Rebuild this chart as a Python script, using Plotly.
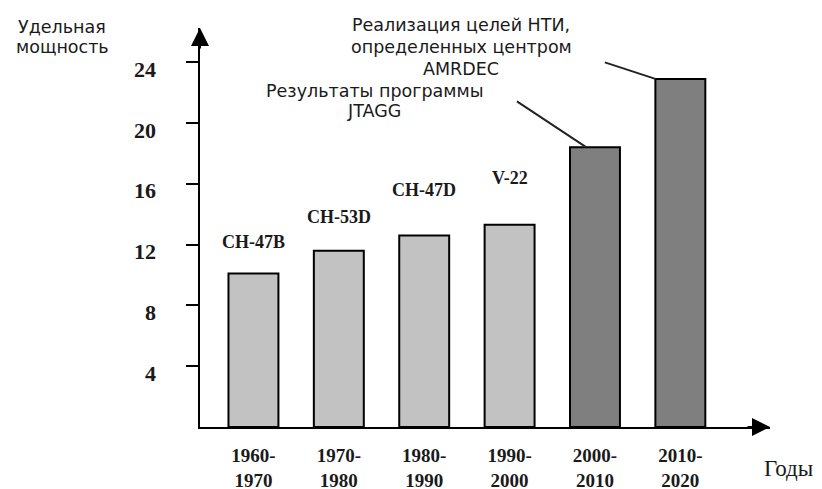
import plotly.graph_objects as go

# ---------------- data ----------------
periods = ["1960-<br>1970", "1970-<br>1980", "1980-<br>1990",
           "1990-<br>2000", "2000-<br>2010", "2010-<br>2020"]
power = [10.1, 11.6, 12.6, 13.3, 18.4, 22.9]
aircraft = ["CH-47B", "CH-53D", "CH-47D", "V-22"]
y_ticks = [4, 8, 12, 16, 20, 24]
y_ticktext = ["4", "8", "12", "16", "20", "24"]
y_title = ["Удельная", "мощность"]
x_title = "Годы"
note_amrdec = ["Реализация целей НТИ,", "определенных центром", "AMRDEC"]
note_jtagg = ["Результаты программы", "JTAGG"]

# ---------------- style ----------------
LIGHT = "#c2c2c2"
DARK = "#7f7f7f"
colors = [LIGHT] * 4 + [DARK] * 2
BAR_W = 0.585
SERIF = "Liberation Serif"
SANS = "DejaVu Sans"
TXT = "#1a1a1a"
YMAX = 26.25
XR = [-0.626, 6.05]
label_shift = [31, 34, 45, 47]

W, H = 822, 489
ML, MR, MT, MB = 200, 52, 28, 62
PH = H - MT - MB


def py(pix):
    """page pixel row -> paper y"""
    return (H - MB - pix) / PH


def px(pix):
    """page pixel column -> paper x"""
    return (pix - ML) / (W - ML - MR)


x = list(range(len(periods)))

fig = go.Figure()
fig.add_trace(go.Bar(
    x=x, y=power, width=BAR_W,
    marker=dict(color=colors, line=dict(color="black", width=2)),
    hoverinfo="skip",
))

ann = []
# y tick labels (slightly below the ticks, as in the original)
for v, t in zip(y_ticks, y_ticktext):
    ann.append(dict(x=0, xref="paper", xshift=-42, xanchor="right",
                    y=v, yref="y", yshift=-7, yanchor="middle",
                    text=t, showarrow=False,
                    font=dict(family=SERIF, size=22, color=TXT, weight="bold")))
# aircraft labels above bars
for i, name in enumerate(aircraft):
    ann.append(dict(x=i, xref="x", y=power[i], yref="y", yshift=label_shift[i],
                    yanchor="middle", text=name, showarrow=False,
                    font=dict(family=SERIF, size=18, color=TXT, weight="bold")))
# axis arrows
ann.append(dict(x=0, y=1, xref="paper", yref="paper", ax=0, ay=22, text="",
                showarrow=True, arrowhead=2, arrowsize=1.8, arrowwidth=2,
                arrowcolor="black"))
ann.append(dict(x=1, y=0, xref="paper", yref="paper", ax=-24, ay=0, text="",
                showarrow=True, arrowhead=2, arrowsize=1.8, arrowwidth=2,
                arrowcolor="black"))
# axis titles
for line, row in zip(y_title, [27, 47]):
    ann.append(dict(x=px(62), y=py(row), xref="paper", yref="paper",
                    xanchor="center", yanchor="middle", text=line, showarrow=False,
                    font=dict(family=SANS, size=17.5, color=TXT)))
ann.append(dict(x=px(762), y=py(469), xref="paper", yref="paper",
                xanchor="left", yanchor="middle", text=x_title, showarrow=False,
                font=dict(family=SERIF, size=23, color=TXT)))
# notes
for line, row in zip(note_amrdec, [25, 47, 69]):
    ann.append(dict(x=px(461), y=py(row), xref="paper", yref="paper",
                    xanchor="center", yanchor="middle", text=line, showarrow=False,
                    font=dict(family=SANS, size=17.5, color=TXT)))
for line, row in zip(note_jtagg, [91, 111]):
    ann.append(dict(x=px(374), y=py(row), xref="paper", yref="paper",
                    xanchor="center", yanchor="middle", text=line, showarrow=False,
                    font=dict(family=SANS, size=17.5, color=TXT)))
# leader lines from notes to bars
ann.append(dict(x=4 - 0.1, y=power[4], xref="x", yref="y", ax=-71, ay=-47,
                text="", showarrow=True, arrowhead=0, arrowwidth=2,
                arrowcolor="#222"))
ann.append(dict(x=5 - BAR_W / 2, y=power[5], xref="x", yref="y",
                ax=-52, ay=-17, text="", showarrow=True, arrowhead=0,
                arrowwidth=2, arrowcolor="#222"))

fig.update_layout(
    width=W, height=H,
    margin=dict(l=ML, r=MR, t=MT, b=MB, autoexpand=False),
    plot_bgcolor="white", paper_bgcolor="white",
    showlegend=False,
    xaxis=dict(range=XR, tickvals=x, ticktext=periods, showline=True,
               linecolor="black", linewidth=2, ticks="", showgrid=False,
               zeroline=False, ticklabelstandoff=10, automargin=False,
               tickfont=dict(family=SERIF, size=19, color=TXT, weight="bold")),
    yaxis=dict(range=[0, YMAX], tickvals=y_ticks, showticklabels=False,
               ticks="outside", ticklen=12, tickwidth=2, tickcolor="black",
               showline=True, linecolor="black", linewidth=2, automargin=False,
               showgrid=False, zeroline=False),
    yaxis2=dict(range=[0, YMAX], overlaying="y", side="left", tickvals=y_ticks,
                showticklabels=False, ticks="inside", ticklen=10, tickwidth=2,
                tickcolor="black", showline=False, showgrid=False, zeroline=False,
                automargin=False),
    annotations=ann,
)

fig.write_html("out.html", config={"displayModeBar": False},
               post_script="document.body.style.margin='0';"
                           "document.body.style.overflow='hidden';")
